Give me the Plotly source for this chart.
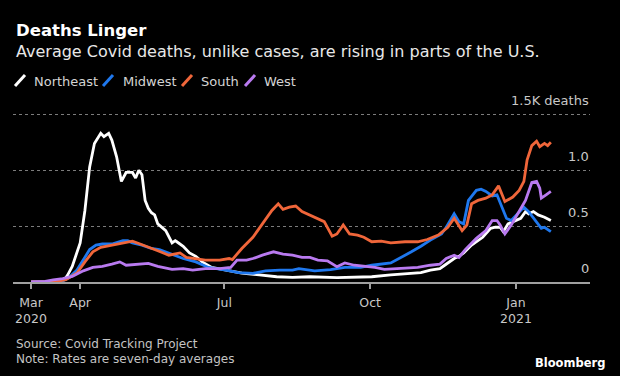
import plotly.graph_objects as go

# ---------------- data (thousands of deaths, 7-day average) ----------------
northeast = [
    ("2020-03-01", 0), ("2020-03-15", 0), ("2020-03-22", 0.02), ("2020-03-24", 0.06),
    ("2020-03-27", 0.14), ("2020-04-01", 0.35), ("2020-04-04", 0.64), ("2020-04-07", 1.03),
    ("2020-04-10", 1.24), ("2020-04-14", 1.33), ("2020-04-16", 1.30), ("2020-04-19", 1.33),
    ("2020-04-21", 1.27), ("2020-04-24", 1.12), ("2020-04-27", 0.90), ("2020-04-30", 0.98),
    ("2020-05-04", 0.98), ("2020-05-06", 0.93), ("2020-05-08", 1.00), ("2020-05-10", 0.96),
    ("2020-05-12", 0.73), ("2020-05-14", 0.66), ("2020-05-16", 0.62), ("2020-05-18", 0.60),
    ("2020-05-20", 0.52), ("2020-05-25", 0.46), ("2020-05-29", 0.35), ("2020-05-31", 0.37),
    ("2020-06-01", 0.36), ("2020-06-05", 0.32), ("2020-06-09", 0.26), ("2020-06-13", 0.23),
    ("2020-06-17", 0.18), ("2020-06-23", 0.13), ("2020-07-02", 0.107), ("2020-07-12", 0.08),
    ("2020-07-23", 0.063), ("2020-08-03", 0.047), ("2020-08-13", 0.042), ("2020-08-24", 0.047),
    ("2020-09-10", 0.04), ("2020-10-02", 0.047), ("2020-10-14", 0.063), ("2020-10-23", 0.07),
    ("2020-11-02", 0.083), ("2020-11-08", 0.107), ("2020-11-14", 0.12), ("2020-11-17", 0.15),
    ("2020-11-20", 0.18), ("2020-11-23", 0.21), ("2020-11-26", 0.23), ("2020-11-29", 0.26),
    ("2020-12-04", 0.33), ("2020-12-11", 0.40), ("2020-12-16", 0.48), ("2020-12-19", 0.49),
    ("2020-12-22", 0.49), ("2020-12-24", 0.45), ("2020-12-27", 0.52), ("2021-01-01", 0.55),
    ("2021-01-04", 0.57), ("2021-01-07", 0.63), ("2021-01-09", 0.61), ("2021-01-12", 0.63),
    ("2021-01-15", 0.60), ("2021-01-19", 0.58), ("2021-01-23", 0.55),
]
midwest = [
    ("2020-03-01", 0), ("2020-03-15", 0), ("2020-03-21", 0.01), ("2020-03-25", 0.04),
    ("2020-03-30", 0.107), ("2020-04-03", 0.20), ("2020-04-07", 0.29), ("2020-04-11", 0.33),
    ("2020-04-15", 0.34), ("2020-04-21", 0.34), ("2020-04-28", 0.37), ("2020-05-01", 0.37),
    ("2020-05-04", 0.35), ("2020-05-10", 0.33), ("2020-05-16", 0.30), ("2020-05-21", 0.29),
    ("2020-05-27", 0.26), ("2020-06-05", 0.21), ("2020-06-13", 0.18), ("2020-06-21", 0.13),
    ("2020-07-02", 0.107), ("2020-07-10", 0.083), ("2020-07-19", 0.077), ("2020-07-27", 0.10),
    ("2020-08-05", 0.107), ("2020-08-13", 0.107), ("2020-08-17", 0.12), ("2020-08-24", 0.107),
    ("2020-08-27", 0.10), ("2020-09-06", 0.11), ("2020-09-15", 0.13), ("2020-09-25", 0.13),
    ("2020-10-02", 0.15), ("2020-10-14", 0.17), ("2020-10-21", 0.22), ("2020-10-27", 0.27),
    ("2020-11-02", 0.32), ("2020-11-08", 0.375), ("2020-11-15", 0.43), ("2020-11-18", 0.49),
    ("2020-11-23", 0.61), ("2020-11-26", 0.54), ("2020-11-29", 0.52), ("2020-12-02", 0.73),
    ("2020-12-07", 0.82), ("2020-12-10", 0.83), ("2020-12-13", 0.81), ("2020-12-17", 0.77),
    ("2020-12-20", 0.78), ("2020-12-23", 0.67), ("2020-12-26", 0.57), ("2020-12-29", 0.55),
    ("2021-01-03", 0.63), ("2021-01-06", 0.67), ("2021-01-09", 0.63), ("2021-01-13", 0.55),
    ("2021-01-17", 0.48), ("2021-01-19", 0.49), ("2021-01-23", 0.45),
]
south = [
    ("2020-03-01", 0), ("2020-03-15", 0), ("2020-03-23", 0.02), ("2020-03-30", 0.08),
    ("2020-04-04", 0.18), ("2020-04-09", 0.27), ("2020-04-14", 0.31), ("2020-04-21", 0.33),
    ("2020-04-28", 0.345), ("2020-05-04", 0.366), ("2020-05-08", 0.345), ("2020-05-14", 0.315),
    ("2020-05-20", 0.28), ("2020-05-27", 0.24), ("2020-06-03", 0.26), ("2020-06-07", 0.22),
    ("2020-06-13", 0.21), ("2020-06-19", 0.196), ("2020-06-28", 0.196), ("2020-07-04", 0.21),
    ("2020-07-06", 0.20), ("2020-07-12", 0.30), ("2020-07-19", 0.40), ("2020-07-25", 0.52),
    ("2020-07-31", 0.64), ("2020-08-04", 0.70), ("2020-08-07", 0.65), ("2020-08-11", 0.67),
    ("2020-08-15", 0.68), ("2020-08-19", 0.63), ("2020-08-24", 0.60), ("2020-08-27", 0.58),
    ("2020-09-02", 0.54), ("2020-09-07", 0.41), ("2020-09-10", 0.43), ("2020-09-14", 0.51),
    ("2020-09-18", 0.43), ("2020-09-23", 0.42), ("2020-09-27", 0.40), ("2020-10-02", 0.36),
    ("2020-10-08", 0.366), ("2020-10-14", 0.35), ("2020-10-23", 0.36), ("2020-10-31", 0.36),
    ("2020-11-06", 0.38), ("2020-11-13", 0.42), ("2020-11-19", 0.49), ("2020-11-23", 0.57),
    ("2020-11-28", 0.46), ("2020-12-01", 0.51), ("2020-12-04", 0.70), ("2020-12-08", 0.73),
    ("2020-12-13", 0.75), ("2020-12-17", 0.78), ("2020-12-21", 0.86), ("2020-12-25", 0.72),
    ("2020-12-30", 0.76), ("2021-01-03", 0.82), ("2021-01-06", 0.90), ("2021-01-08", 1.09),
    ("2021-01-11", 1.22), ("2021-01-14", 1.26), ("2021-01-16", 1.21), ("2021-01-19", 1.24),
    ("2021-01-21", 1.22), ("2021-01-23", 1.25),
]
west = [
    ("2020-03-01", 0), ("2020-03-10", 0.005), ("2020-03-15", 0.02), ("2020-03-21", 0.03),
    ("2020-03-27", 0.05), ("2020-04-03", 0.10), ("2020-04-09", 0.13), ("2020-04-15", 0.14),
    ("2020-04-21", 0.16), ("2020-04-26", 0.18), ("2020-04-30", 0.15), ("2020-05-06", 0.16),
    ("2020-05-14", 0.167), ("2020-05-20", 0.14), ("2020-05-29", 0.113), ("2020-06-05", 0.12),
    ("2020-06-11", 0.107), ("2020-06-19", 0.12), ("2020-06-28", 0.12), ("2020-07-05", 0.13),
    ("2020-07-09", 0.196), ("2020-07-15", 0.196), ("2020-07-19", 0.21), ("2020-07-25", 0.24),
    ("2020-08-01", 0.27), ("2020-08-07", 0.25), ("2020-08-13", 0.24), ("2020-08-19", 0.22),
    ("2020-08-24", 0.22), ("2020-08-29", 0.196), ("2020-09-04", 0.19), ("2020-09-10", 0.137),
    ("2020-09-15", 0.17), ("2020-09-21", 0.15), ("2020-09-27", 0.14), ("2020-10-04", 0.13),
    ("2020-10-10", 0.113), ("2020-10-23", 0.12), ("2020-10-31", 0.13), ("2020-11-08", 0.15),
    ("2020-11-14", 0.16), ("2020-11-18", 0.21), ("2020-11-23", 0.24), ("2020-11-26", 0.22),
    ("2020-11-30", 0.29), ("2020-12-07", 0.39), ("2020-12-13", 0.46), ("2020-12-17", 0.55),
    ("2020-12-20", 0.55), ("2020-12-22", 0.51), ("2020-12-25", 0.43), ("2020-12-29", 0.51),
    ("2021-01-03", 0.63), ("2021-01-07", 0.73), ("2021-01-11", 0.89), ("2021-01-14", 0.90),
    ("2021-01-16", 0.84), ("2021-01-17", 0.75), ("2021-01-20", 0.78), ("2021-01-23", 0.81),
]

series_names = ["Northeast", "Midwest", "South", "West"]
series_data = [northeast, midwest, south, west]
series_colors = ["#ffffff", "#1f78ee", "#f0663a", "#b97af0"]

x_tickvals = ["2020-03-01", "2020-04-01", "2020-07-01", "2020-10-01", "2021-01-01"]
x_ticktext = ["Mar<br>2020", "Apr", "Jul", "Oct", "Jan<br>2021"]
y_tickvals = [0, 0.5, 1.0, 1.5]
y_ticktext = ["0", "0.5", "1.0", "1.5K deaths"]

# ---------------- layout geometry ----------------
W, H = 620, 376
L, R, T, B = 13, 30, 92, 94
PW, PH = W - L - R, H - T - B
Y_TOP = 1.7
FONT = "DejaVu Sans"


def px(x):
    return (x - L) / PW


def py(y):
    return (H - B - y) / PH


fig = go.Figure()
for name, data, color in zip(series_names, series_data, series_colors):
    fig.add_trace(go.Scatter(
        x=[d for d, _ in data], y=[v for _, v in data], name=name, mode="lines",
        line=dict(color=color, width=2.8), showlegend=False,
    ))

annotations = [
    dict(text="<b>Deaths Linger</b>", x=px(14), y=py(31), font=dict(size=16.5, color="#ffffff")),
    dict(text="Average Covid deaths, unlike cases, are rising in parts of the U.S.",
         x=px(14), y=py(51), font=dict(size=16, color="#e8e8e8")),
    dict(text="Source: Covid Tracking Project", x=px(14), y=py(344),
         font=dict(size=12, color="#c4c4c4")),
    dict(text="Note: Rates are seven-day averages", x=px(14), y=py(358.5),
         font=dict(size=12, color="#c4c4c4")),
    dict(text="<b>Bloomberg</b>", x=px(607), y=py(363), xanchor="right",
         font=dict(size=11.5, color="#ffffff")),
]
legend_text_x = [32, 121, 199, 262]
legend_icon_x = [15, 103, 182, 245]
shapes = []
for name, color, tx, ix in zip(series_names, series_colors, legend_text_x, legend_icon_x):
    annotations.append(dict(text=name, x=px(tx), y=py(81), font=dict(size=13, color="#d4d4d4")))
    shapes.append(dict(type="line", xref="paper", yref="paper",
                       x0=px(ix), y0=py(86), x1=px(ix + 10), y1=py(75),
                       line=dict(color=color, width=3)))
for a in annotations:
    a.setdefault("xanchor", "left")
    a.update(xref="paper", yref="paper", yanchor="middle", showarrow=False)
    a["font"]["family"] = FONT

# y-axis tick labels sit above their gridlines, right-aligned at the plot edge
for val, txt in zip(y_tickvals, y_ticktext):
    annotations.append(dict(
        text=txt, xref="paper", x=1, xanchor="right", xshift=1,
        yref="y", y=val, yanchor="bottom", yshift=4, showarrow=False,
        font=dict(size=13, color="#c8c8c8", family=FONT),
    ))

fig.update_layout(
    width=W, height=H, margin=dict(l=L, r=R, t=T, b=B, pad=0),
    paper_bgcolor="#000000", plot_bgcolor="#000000",
    font=dict(family=FONT, color="#c8c8c8"),
    annotations=annotations, shapes=shapes, showlegend=False,
    xaxis=dict(
        type="date", range=["2020-02-18 15:00", "2021-02-16 17:00"],
        tickvals=x_tickvals, ticktext=x_ticktext, tickangle=0,
        showgrid=False, zeroline=False, showline=True, linecolor="#a0a0a0", linewidth=1.5,
        ticks="outside", ticklen=5, tickcolor="#a0a0a0", tickwidth=1.5,
        ticklabelstandoff=3,
        tickfont=dict(size=12.5, color="#c8c8c8", family=FONT),
    ),
    yaxis=dict(
        range=[0, Y_TOP], side="right", tickvals=y_tickvals,
        showticklabels=False, showgrid=True, gridcolor="#7c7c7c",
        griddash="dot", gridwidth=1, zeroline=False, showline=False, ticks="",
    ),
)

fig.write_html("out.html", config={"displayModeBar": False},
               post_script="document.body.style.margin='0';")
